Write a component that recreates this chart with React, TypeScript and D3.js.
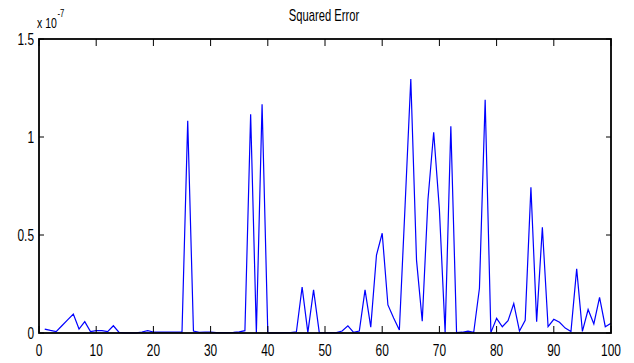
import React from "react";
import * as d3 from "d3";

const errorValues: number[] = [
  0.02, 0.013, 0.007, 0.037, 0.067, 0.097, 0.02, 0.058, 0.007, 0.012,
  0.012, 0.007, 0.037, 0.003, 0.001, 0.001, 0.001, 0.005, 0.012, 0.005,
  0.004, 0.004, 0.004, 0.004, 0.004, 1.083, 0.01, 0.003, 0.005, 0.005,
  0.002, 0.002, 0.002, 0.003, 0.006, 0.012, 1.116, 0.0, 1.167, 0.001,
  0.001, 0.001, 0.002, 0.002, 0.006, 0.234, 0.002, 0.22, 0.002, 0.002,
  0.002, 0.002, 0.01, 0.037, 0.003, 0.01, 0.22, 0.03, 0.398, 0.509,
  0.143, 0.077, 0.015, 0.65, 1.296, 0.372, 0.06, 0.68, 1.024, 0.63,
  0.002, 1.055, 0.002, 0.004, 0.01, 0.004, 0.228, 1.19, 0.002, 0.075,
  0.032, 0.063, 0.15, 0.01, 0.065, 0.743, 0.058, 0.539, 0.032, 0.07,
  0.055, 0.025, 0.008, 0.327, 0.008, 0.12, 0.046, 0.182, 0.032, 0.05,
];
const xTicks: number[] = [0, 10, 20, 30, 40, 50, 60, 70, 80, 90, 100];
const yTicks: number[] = [0, 0.5, 1, 1.5];
const yTickLabels: string[] = ["0", "0.5", "1", "1.5"];
const title = "Squared Error";
const exponentBase = "x 10";
const exponent = "-7";

const W = 634;
const H = 363;
const left = 39;
const right = 611;
const top = 39;
const bottom = 333;
const FONT = "'Liberation Sans', Arial, sans-serif";
const SX = 0.7;

export default function App() {
  const x = d3.scaleLinear().domain([0, 100]).range([left, right]);
  const y = d3.scaleLinear().domain([0, 1.5]).range([bottom, top]);
  const line = d3
    .line<number>()
    .x((_, i) => x(i + 1))
    .y((d) => y(d));

  const lbl = (tx: number, ty: number, s: string, anchor: string, fs: number, key?: string) => (
    <text
      key={key}
      transform={`translate(${tx},${ty}) scale(${SX},1)`}
      textAnchor={anchor}
      fontFamily={FONT}
      fontSize={fs}
      fill="#000"
    >
      {s}
    </text>
  );

  return (
    <svg
      width={W}
      height={H}
      style={{ position: "absolute", left: 0, top: 0, background: "#fff" }}
    >
      <rect x={0} y={0} width={W} height={H} fill="#fff" />
      <path d={line(errorValues) || ""} fill="none" stroke="#0000ff" strokeWidth={1.2} />
      {xTicks.map((t) => (
        <g key={"xt" + t}>
          <line x1={x(t)} x2={x(t)} y1={bottom} y2={bottom - 7} stroke="#000" strokeWidth={1} />
          <line x1={x(t)} x2={x(t)} y1={top} y2={top + 7} stroke="#000" strokeWidth={1} />
        </g>
      ))}
      {yTicks.map((t) => (
        <g key={"yt" + t}>
          <line x1={left} x2={left + 5} y1={y(t)} y2={y(t)} stroke="#000" strokeWidth={1} />
          <line x1={right} x2={right - 5} y1={y(t)} y2={y(t)} stroke="#000" strokeWidth={1} />
        </g>
      ))}
      <rect
        x={left}
        y={top}
        width={right - left}
        height={bottom - top}
        fill="none"
        stroke="#000"
        strokeWidth={1.8}
      />
      {xTicks.map((t) => lbl(x(t), 356, String(t), "middle", 17, "xl" + t))}
      {yTicks.map((t, i) => lbl(34, y(t) + 6, yTickLabels[i], "end", 17, "yl" + t))}
      {lbl(324, 21, title, "middle", 16)}
      {lbl(37, 28, exponentBase, "start", 15)}
      {lbl(57.5, 17, exponent, "start", 11)}
    </svg>
  );
}
